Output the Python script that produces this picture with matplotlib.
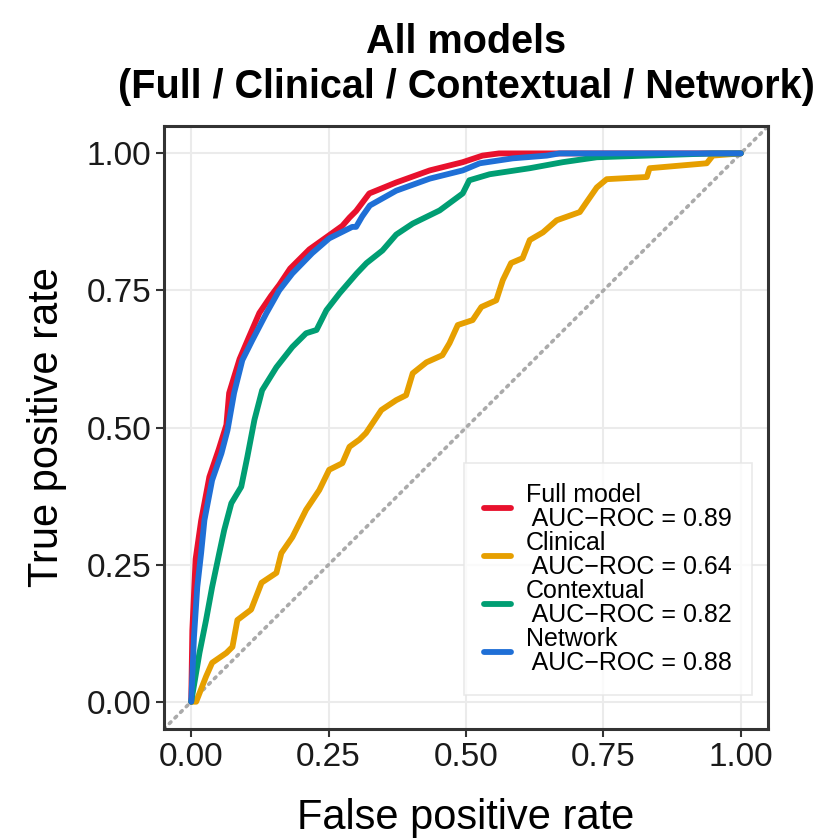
import numpy as np
import matplotlib
matplotlib.use("Agg")
import matplotlib.pyplot as plt

plt.rcParams['font.family'] = ['Liberation Sans', 'DejaVu Sans']

# ROC curves (false positive rate, true positive rate)
full_fpr = [0, 0.002, 0.008, 0.018, 0.033, 0.05, 0.064, 0.069, 0.088, 0.105, 0.124,
            0.145, 0.16, 0.18, 0.215, 0.25, 0.275, 0.288, 0.30, 0.324, 0.373, 0.434,
            0.494, 0.53, 0.56, 1.0]
full_tpr = [0, 0.13, 0.26, 0.33, 0.41, 0.46, 0.505, 0.563, 0.625, 0.665, 0.709,
            0.74, 0.76, 0.79, 0.825, 0.85, 0.868, 0.883, 0.895, 0.927, 0.947, 0.969,
            0.984, 0.996, 1.0, 1.0]

clin_fpr = [0, 0.009, 0.027, 0.038, 0.064, 0.075, 0.084, 0.109, 0.128, 0.155, 0.164,
            0.184, 0.209, 0.233, 0.251, 0.275, 0.288, 0.306, 0.318, 0.346, 0.373,
            0.391, 0.403, 0.428, 0.457, 0.47, 0.485, 0.512, 0.528, 0.555, 0.567,
            0.582, 0.603, 0.616, 0.64, 0.665, 0.707, 0.72, 0.738, 0.756, 0.829,
            0.834, 0.938, 0.949, 1.0]
clin_tpr = [0, 0, 0.046, 0.071, 0.089, 0.10, 0.149, 0.168, 0.217, 0.235, 0.271,
            0.30, 0.35, 0.386, 0.423, 0.435, 0.465, 0.478, 0.49, 0.532, 0.55,
            0.559, 0.599, 0.619, 0.632, 0.654, 0.687, 0.696, 0.72, 0.732, 0.769,
            0.80, 0.809, 0.842, 0.856, 0.878, 0.893, 0.912, 0.938, 0.953, 0.957,
            0.973, 0.982, 0.996, 1.0]

ctx_fpr = [0, 0.015, 0.027, 0.038, 0.051, 0.06, 0.073, 0.091, 0.102, 0.115, 0.129,
           0.155, 0.184, 0.209, 0.228, 0.246, 0.27, 0.301, 0.319, 0.348, 0.373,
           0.403, 0.452, 0.494, 0.506, 0.543, 0.616, 0.676, 0.738, 0.798, 0.95, 1.0]
ctx_tpr = [0, 0.089, 0.149, 0.209, 0.271, 0.313, 0.362, 0.392, 0.446, 0.514, 0.568,
           0.61, 0.647, 0.672, 0.678, 0.714, 0.745, 0.781, 0.80, 0.823, 0.852,
           0.872, 0.896, 0.927, 0.951, 0.962, 0.973, 0.984, 0.993, 0.995, 1.0, 1.0]

net_fpr = [0, 0.005, 0.011, 0.018, 0.024, 0.038, 0.055, 0.066, 0.078, 0.093, 0.111,
           0.137, 0.16, 0.184, 0.22, 0.251, 0.293, 0.30, 0.311, 0.325, 0.373, 0.434,
           0.494, 0.525, 0.585, 0.647, 0.67, 1.0]
net_tpr = [0, 0.118, 0.209, 0.271, 0.331, 0.404, 0.453, 0.495, 0.563, 0.623, 0.659,
           0.709, 0.75, 0.781, 0.818, 0.845, 0.866, 0.866, 0.885, 0.905, 0.932, 0.954,
           0.969, 0.982, 0.991, 0.996, 1.0, 1.0]

labels = ["Full model\n AUC\u2212ROC = 0.89",
          "Clinical\n AUC\u2212ROC = 0.64",
          "Contextual\n AUC\u2212ROC = 0.82",
          "Network\n AUC\u2212ROC = 0.88"]
colors = ["#E8112D", "#E69F00", "#009E73", "#1F6FD6"]

fig = plt.figure(figsize=(8.27, 8.4), dpi=100)
ax = fig.add_axes([0.198, 0.132, 0.731, 0.718])

ax.axline((0, 0), slope=1, color="#AAAAAA", linestyle=(0, (0.6, 1.6)),
          linewidth=2.6, dash_capstyle="round", zorder=1)

curves = [(full_fpr, full_tpr), (clin_fpr, clin_tpr), (ctx_fpr, ctx_tpr), (net_fpr, net_tpr)]
for (fpr, tpr), lab, col in zip(curves, labels, colors):
    ax.plot(fpr, tpr, color=col, linewidth=4.2, label=lab, zorder=3,
            solid_joinstyle="round", solid_capstyle="round")

ax.set_xlim(-0.05, 1.05)
ax.set_ylim(-0.05, 1.05)
ticks = [0, 0.25, 0.5, 0.75, 1.0]
tick_labels = ["0.00", "0.25", "0.50", "0.75", "1.00"]
ax.set_xticks(ticks)
ax.set_xticklabels(tick_labels)
ax.set_yticks(ticks)
ax.set_yticklabels(tick_labels)
ax.tick_params(labelsize=24, length=6, width=1.5, pad=3, color="#333333",
               labelcolor="#1A1A1A")
ax.grid(True, color="#EBEBEB", linewidth=1.5, zorder=0)
ax.set_axisbelow(True)
for sp in ax.spines.values():
    sp.set_color("#333333")
    sp.set_linewidth(2.2)

ax.set_xlabel("False positive rate", fontsize=30, labelpad=18)
ax.set_ylabel("True positive rate", fontsize=30, labelpad=14)
ax.set_title("All models\n(Full / Clinical / Contextual / Network)",
             fontsize=28.5, fontweight="bold", pad=20, linespacing=1.25)

leg = ax.legend(loc="lower right", bbox_to_anchor=(0.973, 0.056), fontsize=18,
                frameon=True, fancybox=False, edgecolor="#E5E5E5",
                handlelength=1.1, handletextpad=0.6, labelspacing=0.0,
                borderpad=0.8, borderaxespad=0)
leg.get_frame().set_linewidth(1.2)
for line in leg.get_lines():
    line.set_linewidth(4.2)
for t in leg.get_texts():
    t.set_linespacing(1.0)

fig.savefig("out.png", dpi=100)
